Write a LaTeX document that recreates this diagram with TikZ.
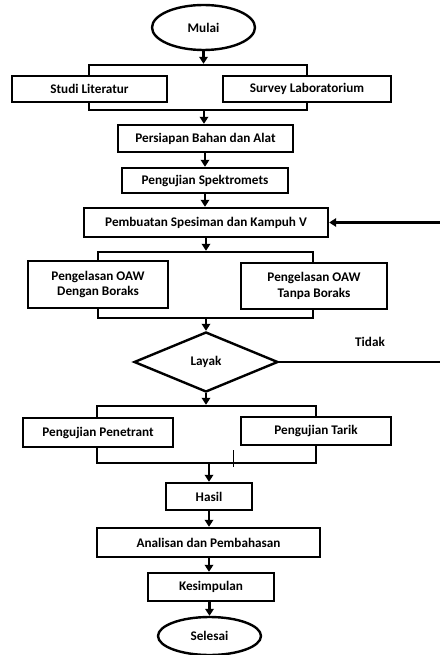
\documentclass[tikz,border=0pt]{standalone}
\usepackage{fontspec}
\setmainfont{Carlito}
\usetikzlibrary{shapes.geometric,arrows.meta}
\tikzset{
  box/.style={draw, fill=white, line width=2.4pt, inner sep=0pt, align=center,
    font=\fontsize{13.2}{15.5}\selectfont\bfseries},
  brk/.style={draw, line width=2.4pt, inner sep=0pt},
  term/.style={box, ellipse},
  arr/.style={line width=2.4pt, -{Triangle[length=7pt,width=8.5pt]}},
  lbl/.style={inner sep=0pt, font=\fontsize{13.2}{15.5}\selectfont\bfseries}
}
\begin{document}
\begin{tikzpicture}[x=1pt,y=-1pt]
\useasboundingbox (0,0) rectangle (439,655);
\node[term, minimum width=103, minimum height=45] (mulai) at (203.5,27.5) {Mulai};
\node[brk, minimum width=218, minimum height=45] (b1) at (198,87.5) {};
\node[box, minimum width=155, minimum height=26] (studi) at (89.5,89) {Studi Literatur};
\node[box, minimum width=168, minimum height=26] (survey) at (307,89) {Survey Laboratorium};
\node[box, minimum width=175, minimum height=27] (persiapan) at (205.5,138.5) {Persiapan Bahan dan Alat};
\node[box, minimum width=166, minimum height=25] (spek) at (205,180.5) {Pengujian Spektromets};
\node[box, minimum width=244, minimum height=29] (pembuatan) at (206,222.5) {Pembuatan Spesiman dan Kampuh V};
\node[brk, minimum width=215, minimum height=66] (b2) at (205.5,285) {};
\node[box, minimum width=140, minimum height=47] (oaw1) at (98,284.5) {Pengelasan OAW\\Dengan Boraks};
\node[box, minimum width=146, minimum height=46] (oaw2) at (314,286) {Pengelasan OAW\\Tanpa Boraks};
\node[box, diamond, minimum width=144, minimum height=60] (layak) at (206,362) {Layak};
\node[lbl] (tidak) at (370,342) {Tidak};
\node[brk, minimum width=219, minimum height=57] (b3) at (206.5,434.5) {};
\node[box, minimum width=150, minimum height=29] (pen) at (98,432.5) {Pengujian Penetrant};
\node[box, minimum width=150, minimum height=28] (tarik) at (316,431) {Pengujian Tarik};
\node[box, minimum width=86, minimum height=27] (hasil) at (209,496.5) {Hasil};
\node[box, minimum width=223, minimum height=29] (analisan) at (208.5,542.5) {Analisan dan Pembahasan};
\node[box, minimum width=126, minimum height=28] (kesimpulan) at (211,587) {Kesimpulan};
\node[term, minimum width=103, minimum height=38] (selesai) at (209.5,636) {Selesai};
\coordinate (tk1) at (233,450);
\coordinate (tk2) at (233,467);
\coordinate (fb1) at (447,362);
\coordinate (fb2) at (447,222.5);

\draw[arr] (mulai.south) -- (mulai.south |- b1.north);
\draw[arr] (b1.south -| 204,0) -- (persiapan.north -| 204,0);
\draw[arr] (persiapan.south -| 205,0) -- (spek.north -| 205,0);
\draw[arr] (spek.south -| 205,0) -- (pembuatan.north -| 205,0);
\draw[arr] (pembuatan.south -| 206,0) -- (b2.north -| 206,0);
\draw[arr] (b2.south -| layak.north) -- (layak.north);
\draw[arr] (layak.south) -- (layak.south |- b3.north);
\draw[arr] (b3.south -| hasil.north) -- (hasil.north);
\draw[arr] (hasil.south -| 209,0) -- (analisan.north -| 209,0);
\draw[arr] (analisan.south -| 209,0) -- (kesimpulan.north -| 209,0);
\draw[arr] (kesimpulan.south -| 209.5,0) -- (selesai.north);
\draw[arr] (layak.east) -- (fb1) -- (fb2) -- (pembuatan.east);
\draw[line width=1pt] (tk1) -- (tk2);
\end{tikzpicture}
\end{document}
